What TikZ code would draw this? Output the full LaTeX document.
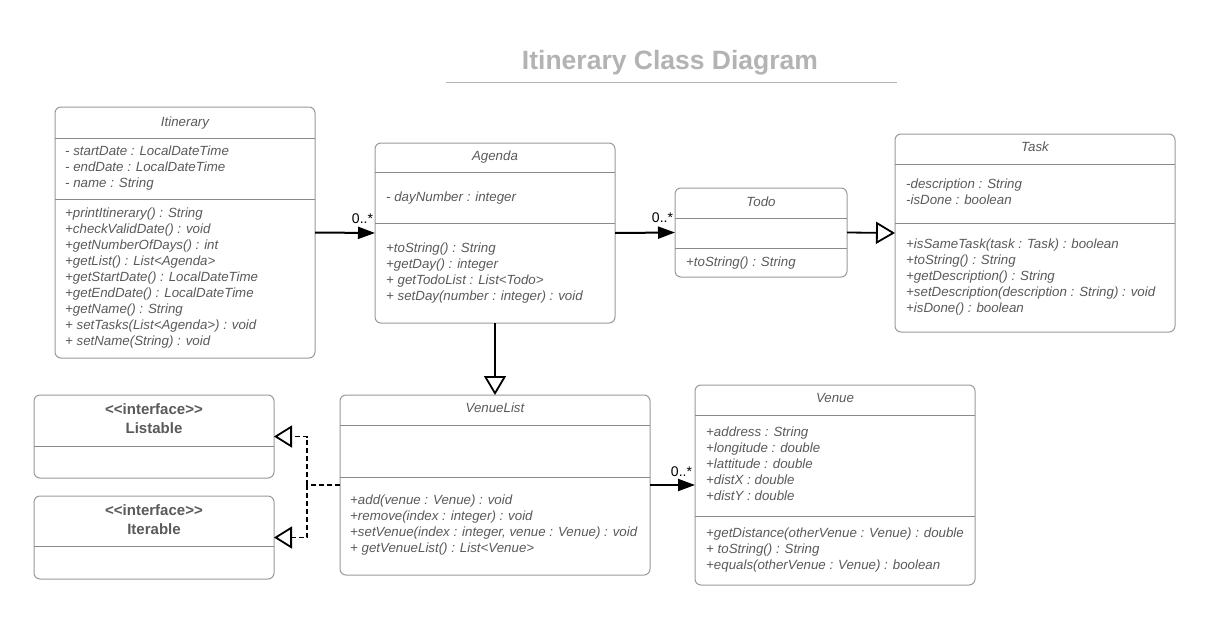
\documentclass[tikz,border=0pt]{standalone}
\usepackage{fontspec}
\setmainfont{Liberation Sans}
\usetikzlibrary{arrows.meta}
\definecolor{boxline}{HTML}{9A9A9A}
\definecolor{divline}{HTML}{8A8A8A}
\definecolor{txt}{HTML}{5A5A5A}
\definecolor{ttl}{HTML}{B3B3B3}
\tikzset{
  umlbox/.style={draw=boxline, line width=1pt, rounded corners=6pt, anchor=north west,
    inner sep=0pt, outer sep=0pt, fill=white},
  div/.style={draw=divline, line width=1pt},
  ln/.style={anchor=base west, inner sep=0pt, font=\fontsize{13.3}{16}\selectfont\itshape, text=txt},
  ctitle/.style={anchor=base, inner sep=0pt, font=\fontsize{13.3}{16}\selectfont\itshape, text=txt},
  iftitle/.style={anchor=base, inner sep=0pt, font=\fontsize{15}{18}\selectfont\bfseries, text=txt},
  assoc/.style={line width=2pt, -{Triangle[length=17pt,width=12pt]}},
  gen/.style={line width=1.8pt, -{Triangle[open,length=19pt,width=22pt]}},
  realline/.style={line width=1.8pt, dash pattern=on 5pt off 3pt},
  real/.style={realline, -{Triangle[open,length=18pt,width=22pt]}},
  mult/.style={font=\fontsize{14}{16}\selectfont, anchor=base east, inner sep=0pt, text=black},
}
\newcommand\txtlines[4]{%
  \foreach \linetext [count=\i from 0] in {#4} {\node[ln] (#1\i) at (#2, #3+16*\i) {\linetext};}}
\begin{document}
\begin{tikzpicture}[x=1pt,y=-1pt]
\useasboundingbox (0,0) rectangle (1212,621);
\fill[white] (0,0) rectangle (1212,621);

% title
\node[anchor=base, inner sep=0pt, font=\fontsize{26.5}{30}\selectfont\bfseries, text=ttl] (title) at (670,69) {Itinerary Class Diagram};
\draw[draw=ttl, line width=1pt] (446,82) -- (897,82);

% Itinerary
\node[umlbox, minimum width=260pt, minimum height=251pt] (itin) at (55,107) {};
\draw[div] (55,138) -- (315,138);
\draw[div] (55,199) -- (315,199);
\node[ctitle] (itint) at (185,126.5) {Itinerary};
\txtlines{itina}{65}{155.5}{{- startDate : LocalDateTime},{- endDate : LocalDateTime},{- name : String}}
\txtlines{itinm}{65}{217.5}{{+printItinerary() : String},{+checkValidDate() : void},{+getNumberOfDays() : int},{+getList() : List<Agenda>},{+getStartDate() : LocalDateTime},{+getEndDate() : LocalDateTime},{+getName() : String},{+ setTasks(List<Agenda>) : void},{+ setName(String) : void}}

% Agenda
\node[umlbox, minimum width=240pt, minimum height=180pt] (agenda) at (375,143) {};
\draw[div] (375,172) -- (615,172);
\draw[div] (375,223) -- (615,223);
\node[ctitle] (agendat) at (495,160.5) {Agenda};
\txtlines{agendaa}{386}{201.5}{{- dayNumber : integer}}
\txtlines{agendam}{386}{252.5}{{+toString() : String},{+getDay() : integer},{+ getTodoList : List<Todo>},{+ setDay(number : integer) : void}}

% Todo
\node[umlbox, minimum width=172pt, minimum height=89pt] (todo) at (675,188) {};
\draw[div] (675,218) -- (847,218);
\draw[div] (675,248) -- (847,248);
\node[ctitle] (todot) at (761,206) {Todo};
\txtlines{todom}{686}{266}{{+toString() : String}}

% Task
\node[umlbox, minimum width=280pt, minimum height=198pt] (task) at (895,134) {};
\draw[div] (895,164) -- (1175,164);
\draw[div] (895,223) -- (1175,223);
\node[ctitle] (taskt) at (1035,151.5) {Task};
\txtlines{taska}{906}{188}{{-description : String},{-isDone : boolean}}
\txtlines{taskm}{906}{248}{{+isSameTask(task : Task) : boolean},{+toString() : String},{+getDescription() : String},{+setDescription(description : String) : void},{+isDone() : boolean}}

% Listable
\node[umlbox, minimum width=240pt, minimum height=83pt] (listable) at (34,395) {};
\draw[div] (34,446) -- (274,446);
\node[iftitle] (listablet1) at (154,414.5) {<{}<interface>{}>};
\node[iftitle] (listablet2) at (154,433.5) {Listable};

% Iterable
\node[umlbox, minimum width=240pt, minimum height=83pt] (iterable) at (34,496) {};
\draw[div] (34,546) -- (274,546);
\node[iftitle] (iterablet1) at (154,515) {<{}<interface>{}>};
\node[iftitle] (iterablet2) at (154,534) {Iterable};

% VenueList
\node[umlbox, minimum width=310pt, minimum height=180pt] (vlist) at (340,395) {};
\draw[div] (340,425) -- (650,425);
\draw[div] (340,477) -- (650,477);
\node[ctitle] (vlistt) at (495,412.5) {VenueList};
\txtlines{vlistm}{350}{504.5}{{+add(venue : Venue) : void},{+remove(index : integer) : void},{+setVenue(index : integer, venue : Venue) : void},{+ getVenueList() : List<Venue>}}

% Venue
\node[umlbox, minimum width=280pt, minimum height=200pt] (venue) at (695,385) {};
\draw[div] (695,415) -- (975,415);
\draw[div] (695,516) -- (975,516);
\node[ctitle] (venuet) at (835,402.5) {Venue};
\txtlines{venuea}{706}{436}{{+address : String},{+longitude : double},{+lattitude : double},{+distX : double},{+distY : double}}
\txtlines{venuem}{706}{537.5}{{+getDistance(otherVenue : Venue) : double},{+ toString() : String},{+equals(otherVenue : Venue) : boolean}}

% connectors
\draw[assoc] (itin.east) -- (agenda.west) node[pos=1, mult, xshift=-1pt, yshift=10pt] (m1) {0..*};
\draw[assoc] (agenda.east) -- (todo.west) node[pos=1, mult, xshift=-1pt, yshift=10pt] (m2) {0..*};
\draw[gen] (todo.east) -- (task.west);
\draw[gen] (agenda.south) -- (vlist.north);
\draw[assoc] (vlist.east) -- (venue.west) node[pos=1, mult, xshift=-2pt, yshift=9pt] (m3) {0..*};
\coordinate (jn) at (307,485);
\draw[realline] (vlist.west) -- (jn);
\draw[real] (jn) |- (listable.east);
\draw[real] (jn) |- (iterable.east);
\end{tikzpicture}
\end{document}
